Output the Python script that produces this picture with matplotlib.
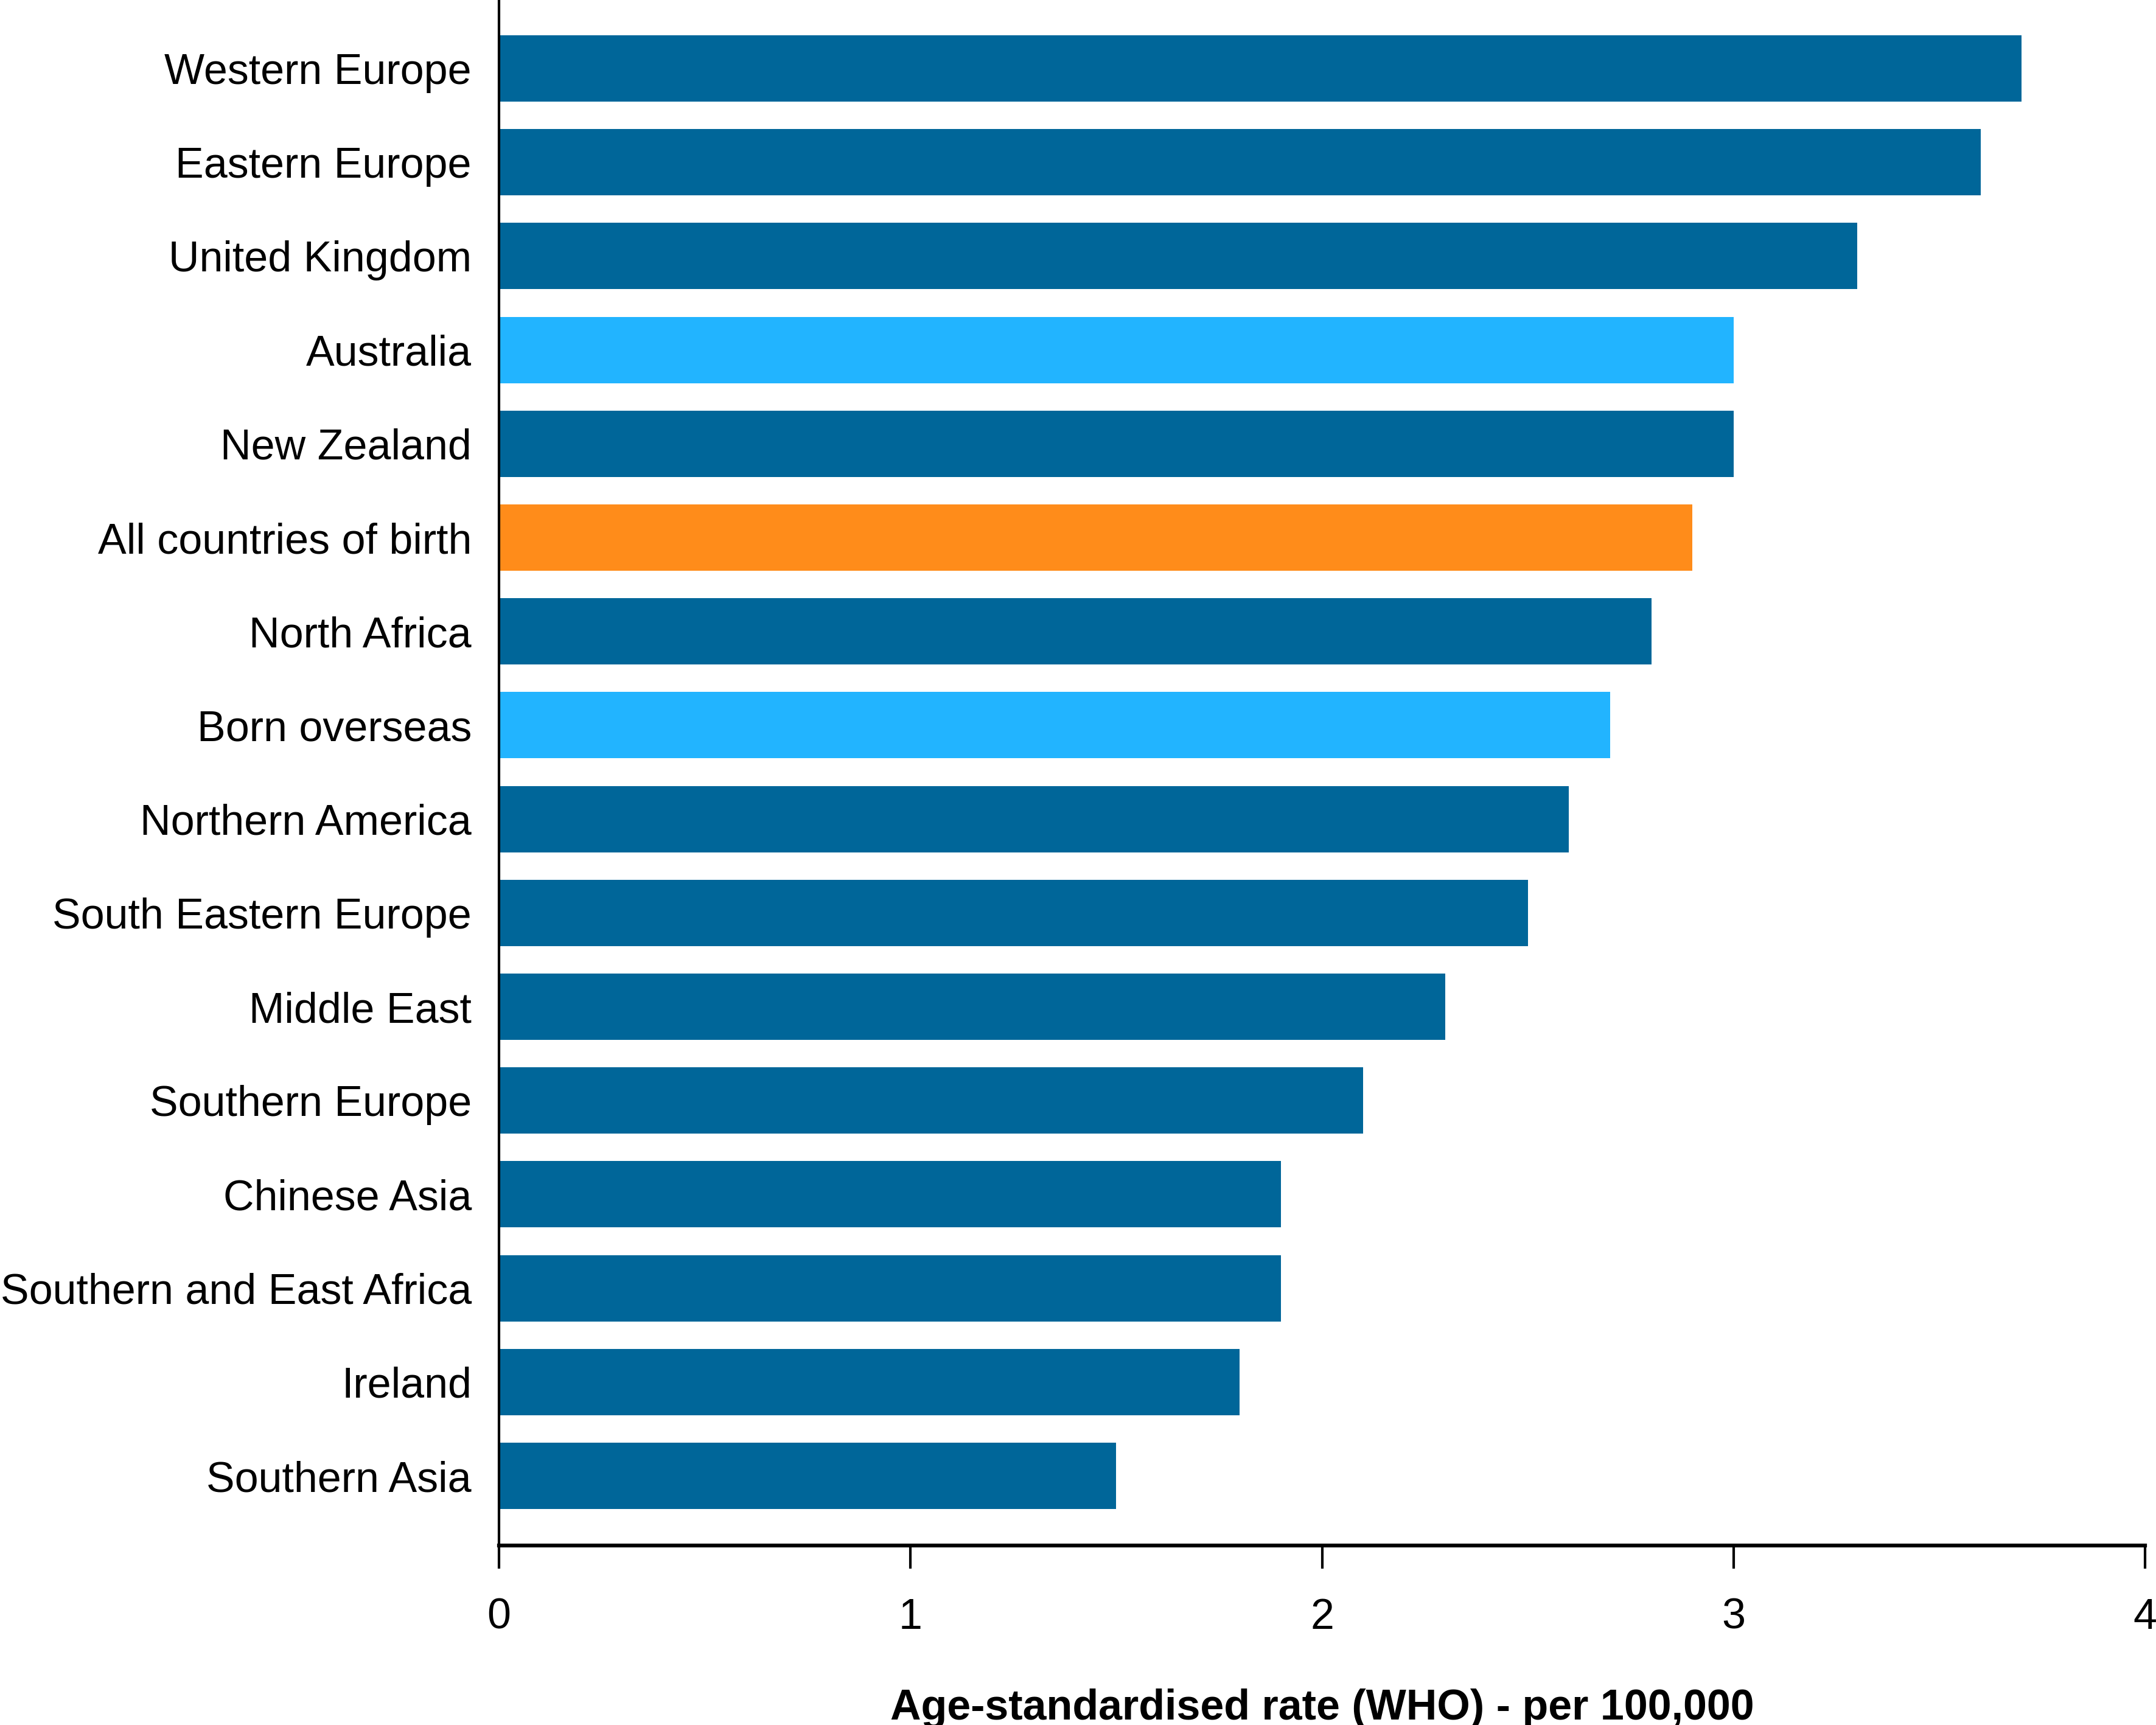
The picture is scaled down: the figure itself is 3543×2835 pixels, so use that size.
import matplotlib
matplotlib.use("Agg")
import matplotlib.pyplot as plt

categories = [
    "Western Europe", "Eastern Europe", "United Kingdom", "Australia",
    "New Zealand", "All countries of birth", "North Africa", "Born overseas",
    "Northern America", "South Eastern Europe", "Middle East", "Southern Europe",
    "Chinese Asia", "Southern and East Africa", "Ireland", "Southern Asia",
]
values = [3.7, 3.6, 3.3, 3.0, 3.0, 2.9, 2.8, 2.7, 2.6, 2.5, 2.3, 2.1, 1.9, 1.9, 1.8, 1.5]
highlight_light = ["Australia", "Born overseas"]
highlight_total = ["All countries of birth"]
x_ticks = [0, 1, 2, 3, 4]
x_label = "Age-standardised rate (WHO) - per 100,000"

DARK = "#006699"
LIGHT = "#22B4FF"
ORANGE = "#FF8C1A"

colors = []
for c in categories:
    if c in highlight_total:
        colors.append(ORANGE)
    elif c in highlight_light:
        colors.append(LIGHT)
    else:
        colors.append(DARK)

plt.rcParams["font.family"] = ["Liberation Sans", "DejaVu Sans"]

fig = plt.figure(figsize=(3543 / 300, 2835 / 300), dpi=300)
ax = fig.add_axes([820 / 3543, 1 - 2540 / 2835, (3525 - 820) / 3543, 2540 / 2835])

y = list(range(len(categories)))
ax.barh(y, values, height=0.707, color=colors, zorder=2)

ax.set_xlim(0, 4)
ax.set_ylim(15.742, -0.73)
ax.set_yticks(y)
ax.set_yticklabels(categories, fontsize=16.8)
ax.set_xticks(x_ticks)
ax.set_xticklabels([str(t) for t in x_ticks], fontsize=16.8)

ax.tick_params(axis="y", length=0, pad=10.8)
ax.tick_params(axis="x", direction="out", length=9.1, width=1.0, pad=11.5, color="black")

for s in ["top", "right"]:
    ax.spines[s].set_visible(False)
ax.spines["left"].set_linewidth(1.0)
ax.spines["bottom"].set_linewidth(1.5)

ax.set_xlabel(x_label, fontsize=16.8, fontweight="bold", labelpad=20)

fig.savefig("out.png", dpi=300)
